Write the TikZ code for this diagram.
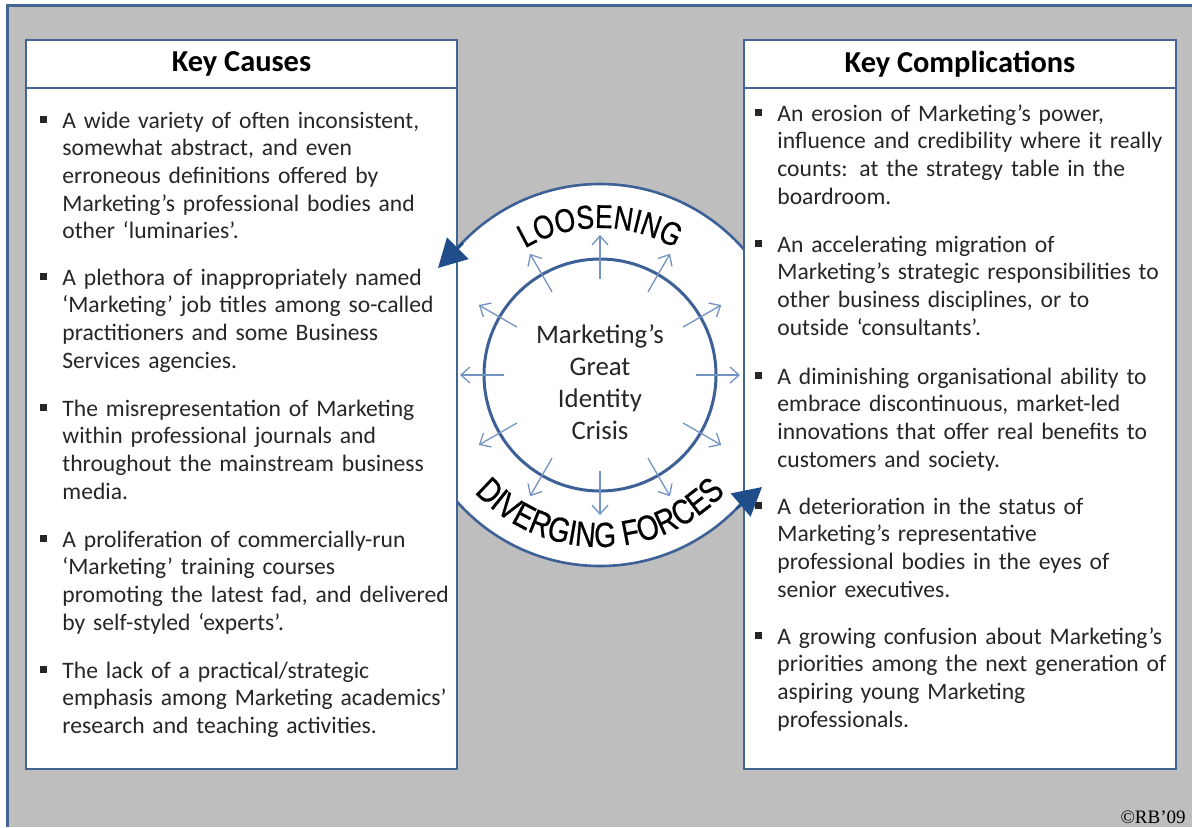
\documentclass[tikz,border=0pt]{standalone}
\usepackage{fontspec}
\setmainfont{Carlito}
\newfontfamily\ringfont[FakeStretch=0.8, FakeBold=0.6]{Liberation Sans}
\newfontfamily\notefont{Liberation Serif}
\usepackage{xcolor}
\usetikzlibrary{arrows.meta, decorations.text}

\definecolor{boxblue}{HTML}{446494}
\definecolor{ringblue}{HTML}{3D6196}
\definecolor{tipblue}{HTML}{1F4E8A}
\definecolor{spokeblue}{HTML}{7393C2}
\definecolor{bggray}{HTML}{BEBEBE}

\newcommand{\sqbul}{\noindent\makebox[0pt][r]{\rule[2.4pt]{3.5pt}{3.5pt}\hspace{7.5pt}}}

\begin{document}
\begin{tikzpicture}[x=0.5pt, y=-0.5pt,
    panel/.style={draw=boxblue, line width=1.25pt, fill=white},
    head/.style={inner sep=0pt, font=\fontsize{15.2}{18}\selectfont\bfseries},
    item/.style={anchor=base west, inner sep=0pt, text width=200pt, align=left,
        font=\fontsize{11.8}{13.85}\selectfont, text=black!85},
    ring/.style={draw=ringblue, line width=1.3pt, fill=white},
    spoke/.style={draw=spokeblue, line width=0.65pt, -{Straight Barb[length=4.5pt,width=8pt]}},
    tipline/.style={draw=tipblue, line width=1.3pt, -{Triangle[length=14pt,width=15pt]}}]

    \useasboundingbox (0,0) rectangle (1192,827);
    \clip (0,0) rectangle (1192,827);

    % grey slide background with its frame
    \fill[white] (0,0) rectangle (1192,827);
    \fill[bggray] (7,5) rectangle (1192,827);
    \draw[boxblue, line width=1.5pt] (7,827) -- (7,5) -- (1192,5);

    % the two rings in the middle
    \coordinate (hub) at (600,375);
    \draw[ring] (hub) circle[radius=191];
    \draw[ring, line width=1.5pt] (hub) circle[radius=116];
    \foreach \a in {0,30,...,330}
        \draw[spoke] (hub) ++(\a:96) -- ++(\a:44);

    % curved labels on the outer ring
    \path[decorate, decoration={text along path, text align=center,
        text={|\ringfont\fontsize{16.5}{16.5}\selectfont|LOOSENING}}]
        (hub) ++(210:147) arc[start angle=210, end angle=330, radius=147];
    \path[decorate, decoration={text along path, text align=center,
        text={|\ringfont\fontsize{17.5}{17.5}\selectfont|DIVERGING FORCES}}]
        (hub) ++(140:172) arc[start angle=140, end angle=40, radius=172];

    \node[align=center, inner sep=0pt, text=black!85,
        font=\fontsize{13.4}{16}\selectfont] (crisis) at (600,382)
        {Marketing's\\Great\\Identity\\Crisis};

    % left panel
    \draw[panel] (26,40) rectangle (457,769);
    \draw[boxblue, line width=1.25pt] (26,88) -- (457,88);
    \node[head] (causes) at (241.5,64) {Key Causes};

    \node[item] (c1) at (62,128) {\sqbul A wide variety of often inconsistent,\\
        somewhat abstract, and even\\ erroneous definitions offered by\\
        Marketing's professional bodies and\\ other `luminaries'.};
    \node[item] (c2) at (62,285) {\sqbul A plethora of inappropriately named\\
        `Marketing' job titles among so-called\\ practitioners and some Business\\
        Services agencies.};
    \node[item] (c3) at (62,416) {\sqbul The misrepresentation of Marketing\\
        within professional journals and\\ throughout the mainstream business\\
        media.};
    \node[item] (c4) at (62,547) {\sqbul A proliferation of commercially-run\\
        `Marketing' training  courses\\ promoting the latest fad, and delivered\\
        by self-styled `experts'.};
    \node[item] (c5) at (62,678) {\sqbul The lack of a practical/strategic\\
        emphasis among Marketing academics'\\ research and teaching activities.};

    % right panel
    \draw[panel] (744,40) rectangle (1176,769);
    \draw[boxblue, line width=1.25pt] (744,88) -- (1176,88);
    \node[head] (complic) at (960,64) {Key Complications};

    \node[item] (k1) at (777,121) {\sqbul An erosion of Marketing's power,\\
        influence and credibility where it really\\ counts: at the strategy table in the\\
        boardroom.};
    \node[item] (k2) at (777,252) {\sqbul An accelerating migration of\\
        Marketing's strategic responsibilities  to\\ other business disciplines, or to\\
        outside `consultants'.};
    \node[item] (k3) at (777,384) {\sqbul A diminishing organisational ability to\\
        embrace discontinuous, market-led\\ innovations that offer real benefits to\\
        customers and society.};
    \node[item] (k4) at (777,514) {\sqbul A deterioration in the status of\\
        Marketing's representative\\ professional bodies in the eyes of\\
        senior executives.};
    \node[item] (k5) at (777,644) {\sqbul A growing confusion about Marketing's\\
        priorities among the next generation of\\ aspiring young Marketing\\
        professionals.};

    % arrow heads riding on the outer ring
    \coordinate (lbase) at (463,243);
    \coordinate (ltip) at (438,268);
    \coordinate (rbase) at (736,509);
    \coordinate (rtip) at (762,487);
    \draw[tipline] (lbase) -- (ltip);
    \draw[tipline] (rbase) -- (rtip);

    \node[anchor=base east, inner sep=0pt, font=\notefont\fontsize{9.5}{11}\selectfont]
        (note) at (1186,823) {©RB’09};
\end{tikzpicture}
\end{document}
